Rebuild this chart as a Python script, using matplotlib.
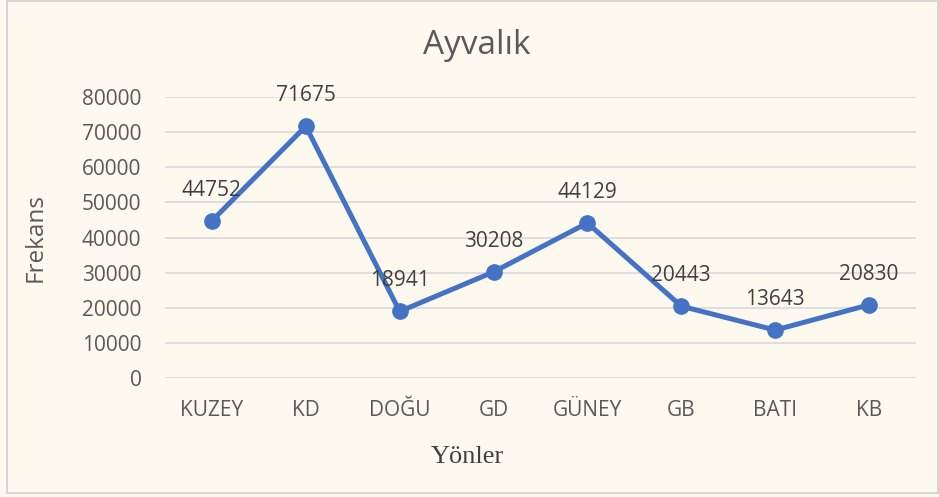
import matplotlib.pyplot as plt
from matplotlib.patches import Rectangle

yonler = ['KUZEY', 'KD', 'DOĞU', 'GD', 'GÜNEY', 'GB', 'BATI', 'KB']
frekans = [44752, 71675, 18941, 30208, 44129, 20443, 13643, 20830]
yticks = [0, 10000, 20000, 30000, 40000, 50000, 60000, 70000, 80000]

bg = '#fdf9ef'
blue = '#4472c4'
gray_txt = '#595959'

fig = plt.figure(figsize=(9.39, 4.97), dpi=100)
fig.patch.set_facecolor(bg)
fig.patches.append(Rectangle((7 / 939, 4 / 497), 931 / 939, 492 / 497, transform=fig.transFigure,
                             fill=False, edgecolor='#d0d0d0', linewidth=1.2))

ax = fig.add_axes([165 / 939, 1 - 378 / 497, 751 / 939, 281 / 497])
ax.set_facecolor(bg)

x = range(len(yonler))
ax.plot(x, frekans, color=blue, linewidth=3.6, marker='o', markersize=11, zorder=3)
for i, v in enumerate(frekans):
    ax.annotate(str(v), (i, v), xytext=(0, 18), textcoords='offset points', ha='center', va='baseline',
                fontsize=15, color='#404040', family='Open Sans')

ax.set_xlim(-0.5, len(yonler) - 0.5)
ax.set_ylim(0, 80000)
ax.set_yticks(yticks)
ax.set_yticklabels([str(t) for t in yticks], family='Open Sans', fontsize=15, color=gray_txt)
ax.set_xticks(list(x))
ax.set_xticklabels(yonler, family='Open Sans', fontsize=15, color=gray_txt)
ax.tick_params(axis='both', length=0)
ax.tick_params(axis='y', pad=17)
ax.tick_params(axis='x', pad=16)
ax.grid(axis='y', color='#d9d9d9', linewidth=1.2)
ax.set_axisbelow(True)
for s in ax.spines.values():
    s.set_visible(False)

ax.set_ylabel('Frekans', family='Open Sans', fontsize=17.5, color=gray_txt, labelpad=25)
fig.text(467 / 939, 1 - 457 / 497, 'Yönler', ha='center', va='center', family='Liberation Serif',
         fontsize=19, color='#404040')
fig.text(477 / 939, 1 - 45 / 497, 'Ayvalık', ha='center', va='center', family='Open Sans', fontsize=24, color=gray_txt)

fig.savefig('out.png', dpi=100, facecolor=bg)
